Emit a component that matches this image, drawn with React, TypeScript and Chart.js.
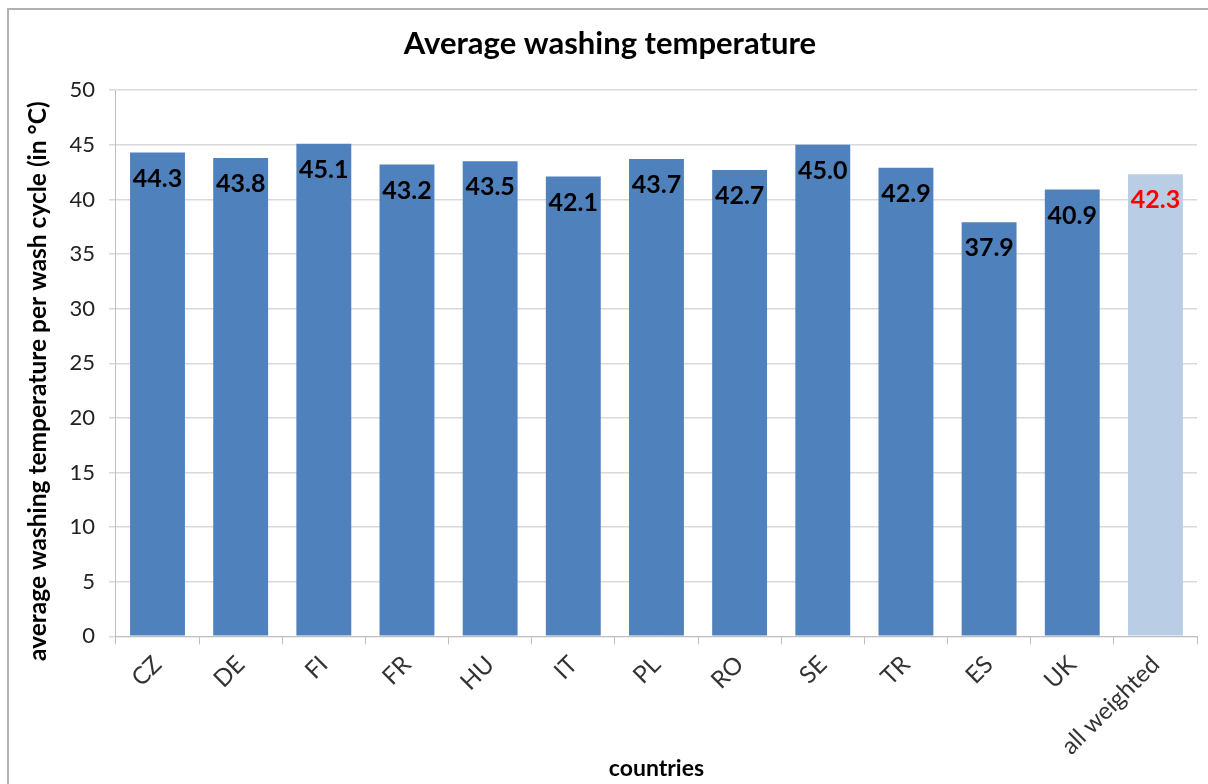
import React, { useEffect, useRef } from "react";
import { Chart, registerables } from "chart.js";

Chart.register(...registerables);

const categories = ["CZ", "DE", "FI", "FR", "HU", "IT", "PL", "RO", "SE", "TR", "ES", "UK", "all weighted"];
const temperatures = [44.3, 43.8, 45.1, 43.2, 43.5, 42.1, 43.7, 42.7, 45.0, 42.9, 37.9, 40.9, 42.3];
const barColors = ["#4f81bd", "#4f81bd", "#4f81bd", "#4f81bd", "#4f81bd", "#4f81bd", "#4f81bd", "#4f81bd", "#4f81bd", "#4f81bd", "#4f81bd", "#4f81bd", "#b9cde5"];
const labelColors = ["#000", "#000", "#000", "#000", "#000", "#000", "#000", "#000", "#000", "#000", "#000", "#000", "#ff0000"];
const yTicks = [0, 5, 10, 15, 20, 25, 30, 35, 40, 45, 50];

const FONT = "Lato, 'Open Sans', sans-serif";

const valueLabels = {
  id: "valueLabels",
  afterDatasetsDraw(chart: any) {
    const ctx = chart.ctx;
    const meta = chart.getDatasetMeta(0);
    ctx.save();
    ctx.font = `bold 25px ${FONT}`;
    ctx.textAlign = "center";
    ctx.textBaseline = "middle";
    meta.data.forEach((bar: any, i: number) => {
      ctx.fillStyle = labelColors[i];
      ctx.fillText(temperatures[i].toFixed(1), bar.x, bar.y + 26);
    });
    ctx.restore();
  },
};

export default function App() {
  const ref = useRef<HTMLCanvasElement>(null);
  useEffect(() => {
    if (!ref.current) return;
    const chart = new Chart(ref.current, {
      type: "bar",
      data: {
        labels: categories,
        datasets: [
          {
            data: temperatures,
            backgroundColor: barColors,
            categoryPercentage: 1,
            barPercentage: 0.66,
          },
        ],
      },
      options: {
        animation: false,
        responsive: false,
        layout: { padding: { left: 14, right: 11, top: 0, bottom: 0 } },
        plugins: {
          legend: { display: false },
          tooltip: { enabled: false },
          title: {
            display: true,
            text: "Average washing temperature",
            color: "#000",
            font: { family: FONT, size: 31, weight: "bold" },
            padding: { top: 15, bottom: 28 },
          },
        },
        scales: {
          x: {
            grid: {
              offset: true,
              drawOnChartArea: false,
              drawTicks: true,
              tickLength: 8,
              color: "#bfbfbf",
            },
            border: { color: "#bfbfbf" },
            ticks: {
              color: "#333",
              font: { family: FONT, size: 24 },
              maxRotation: 45,
              minRotation: 45,
              padding: 6,
            },
            title: {
              display: true,
              text: "countries",
              color: "#000",
              font: { family: FONT, size: 23, weight: "bold" },
              padding: { top: -12, bottom: 2 },
            },
          },
          y: {
            min: 0,
            max: 50,
            afterBuildTicks(axis: any) {
              axis.ticks = yTicks.map((v) => ({ value: v }));
            },
            grid: {
              color: "#d9d9d9",
              tickLength: 7,
              lineWidth: 1.5,
            },
            border: { color: "#bfbfbf" },
            ticks: {
              color: "#222",
              font: { family: FONT, size: 22 },
              padding: 14,
            },
            title: {
              display: true,
              text: "average washing temperature per wash cycle (in °C)      ",
              color: "#000",
              font: { family: FONT, size: 24.5, weight: "bold" },
              padding: { top: 0, bottom: 3 },
            },
          },
        },
      },
      plugins: [valueLabels],
    });
    return () => chart.destroy();
  }, []);

  return (
    <div
      style={{
        position: "absolute",
        left: 7,
        top: 8,
        width: 1201,
        height: 776,
        borderLeft: "2px solid #b0b0b0",
        borderTop: "2px solid #b0b0b0",
        boxSizing: "border-box",
        background: "#fff",
        overflow: "hidden",
      }}
    >
      <canvas ref={ref} width={1199} height={774} style={{ display: "block" }} />
    </div>
  );
}
